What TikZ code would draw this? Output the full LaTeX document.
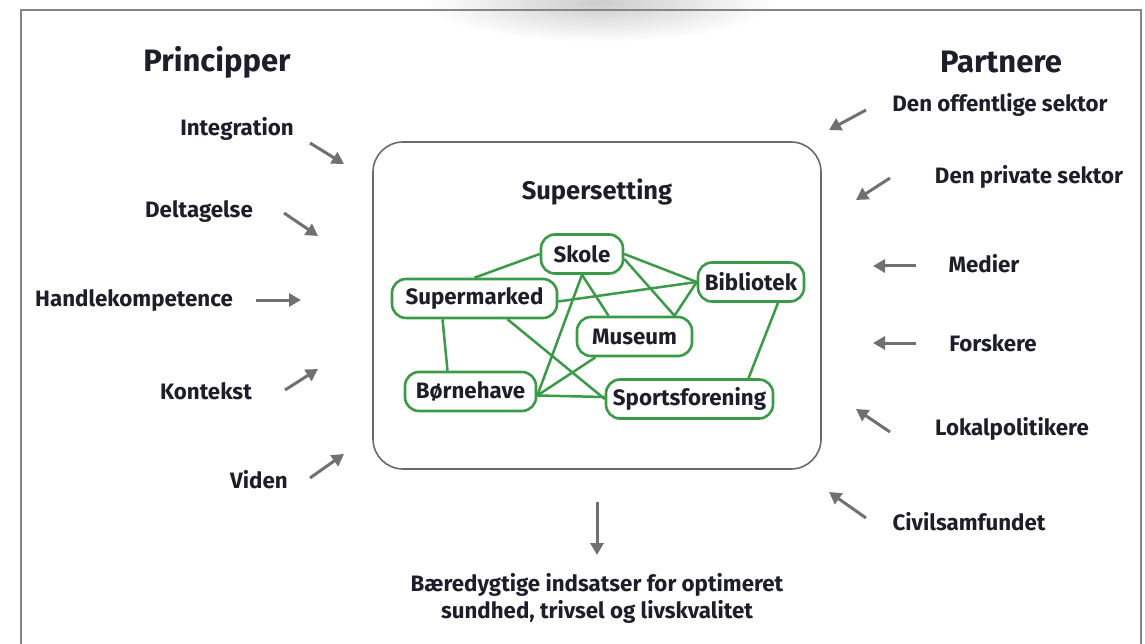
\documentclass[tikz,border=0pt]{standalone}
\usepackage{fontspec}
\setmainfont{Fira Sans}
\usetikzlibrary{arrows.meta,calc,backgrounds}
\definecolor{txt}{HTML}{1E1E2A}
\definecolor{grn}{HTML}{3A9A48}
\definecolor{arrg}{HTML}{707070}
\definecolor{boxg}{HTML}{6A6A6A}
\definecolor{frameg}{HTML}{858585}
\tikzset{
  lbl/.style={font=\bfseries\fontsize{22.3}{26}\selectfont, text=txt, inner sep=0pt},
  headlbl/.style={font=\bfseries\fontsize{31}{34}\selectfont, text=txt, inner sep=0pt},
  gnode/.style={draw=grn, line width=2.6pt, rounded corners=14pt, fill=white, minimum height=39pt, inner sep=0pt,
    font=\bfseries\fontsize{22.3}{26}\selectfont, text=txt},
  arr/.style={draw=arrg, line width=3pt, -{Triangle[length=12pt,width=13pt]}},
  gline/.style={draw=grn, line width=2.5pt},
}
\begin{document}
\begin{tikzpicture}[x=1pt,y=-1pt]
\useasboundingbox (0,0) rectangle (1145,644);
% shadow at the top
\begin{scope}
\clip (0,0) rectangle (1145,60);
\shade[inner color=gray!40, outer color=white] (600,2) ellipse (175 and 40);
\end{scope}
% frame
\draw[frameg, line width=2.2pt] (21,660) -- (21,10) -- (1141,10) -- (1141,660);

% headings
\node[headlbl] (hprin) at (217,62) {Principper};
\node[headlbl] (hpart) at (1001,62) {Partnere};

% left labels
\node[lbl] (integ) at (237,129) {Integration};
\node[lbl] (delt) at (199,212) {Deltagelse};
\node[lbl] (handl) at (134,301) {Handlekompetence};
\node[lbl] (kont) at (206,391) {Kontekst};
\node[lbl] (viden) at (259,480) {Viden};

% right labels
\node[lbl] (offent) at (1000,105) {Den offentlige sektor};
\node[lbl] (privat) at (1029,177) {Den private sektor};
\node[lbl] (medier) at (984,264) {Medier};
\node[lbl] (forsk) at (993,343) {Forskere};
\node[lbl] (lokal) at (1012,429) {Lokalpolitikere};
\node[lbl] (civil) at (969,522) {Civilsamfundet};

% supersetting box
\node[draw=boxg, line width=1.6pt, rounded corners=30pt, minimum width=448pt, minimum height=327pt] (super) at (597,305.5) {};
\node[lbl, font=\bfseries\fontsize{25.5}{28}\selectfont] (stitle) at (597,192) {Supersetting};

% arrow endpoints
\coordinate (a1s) at (310,143); \coordinate (a1e) at (344,164);
\coordinate (a2s) at (284,213); \coordinate (a2e) at (318,236);
\coordinate (a3s) at (256,300); \coordinate (a3e) at (301,300);
\coordinate (a4s) at (285,390); \coordinate (a4e) at (318,369);
\coordinate (a5s) at (310,478); \coordinate (a5e) at (344,454);
\coordinate (b1s) at (866,110); \coordinate (b1e) at (829,130);
\coordinate (b2s) at (890,178); \coordinate (b2e) at (856,200);
\coordinate (b3s) at (916,266); \coordinate (b3e) at (873,266);
\coordinate (b4s) at (916,343); \coordinate (b4e) at (873,343);
\coordinate (b5s) at (890,432); \coordinate (b5e) at (856,409);
\coordinate (b6s) at (866,518); \coordinate (b6e) at (829,492);
\coordinate (downe) at (597,555);

\draw[arr] (a1s) -- (a1e);
\draw[arr] (a2s) -- (a2e);
\draw[arr] (a3s) -- (a3e);
\draw[arr] (a4s) -- (a4e);
\draw[arr] (a5s) -- (a5e);
\draw[arr] (b1s) -- (b1e);
\draw[arr] (b2s) -- (b2e);
\draw[arr] (b3s) -- (b3e);
\draw[arr] (b4s) -- (b4e);
\draw[arr] (b5s) -- (b5e);
\draw[arr] (b6s) -- (b6e);
\draw[arr] (super.south |- 0,502) -- (downe);

% result text
\node[lbl, align=center, font=\bfseries\fontsize{22.3}{27}\selectfont] (result) at (597,598.5) {Bæredygtige indsatser for optimeret\\sundhed, trivsel og livskvalitet};

% green nodes
\node[gnode, minimum width=82pt] (skole) at (582,254) {Skole};
\node[gnode, minimum width=106pt] (biblio) at (751,282) {Bibliotek};
\node[gnode, minimum width=165pt] (superm) at (474.5,298.5) {Supermarked};
\node[gnode, minimum width=115pt] (museum) at (634.5,336.5) {Museum};
\node[gnode, minimum width=131pt] (boern) at (470.5,391.5) {Børnehave};
\node[gnode, minimum width=167pt] (sports) at (689.5,399) {Sportsforening};

\begin{scope}[on background layer]
\draw[gline] (skole.west) -- (superm.north);
\draw[gline] (skole.east) -- (biblio.west);
\draw[gline] (skole.south) -- ($(museum.north)+(-26,0)$);
\draw[gline] ($(skole.east)+(0,5)$) -- ($(museum.north)+(40,0)$);
\draw[gline] ($(superm.east)+(0,3)$) -- (biblio.west);
\draw[gline] (biblio.west) -- ($(museum.north)+(40,0)$);
\draw[gline] ($(biblio.south)+(27,0)$) -- ($(sports.north)+(59,0)$);
\draw[gline] ($(superm.south)+(-32,0)$) -- ($(boern.north)+(-23,0)$);
\draw[gline] ($(superm.south)+(33,0)$) -- (sports.west);
\draw[gline] (skole.south) -- ($(boern.east)+(0,4)$);
\draw[gline] ($(museum.south)+(-39,0)$) -- ($(boern.east)+(0,4)$);
\draw[gline] ($(boern.east)+(0,4)$) -- ($(sports.west)+(0,-2)$);
\end{scope}
\end{tikzpicture}
\end{document}
